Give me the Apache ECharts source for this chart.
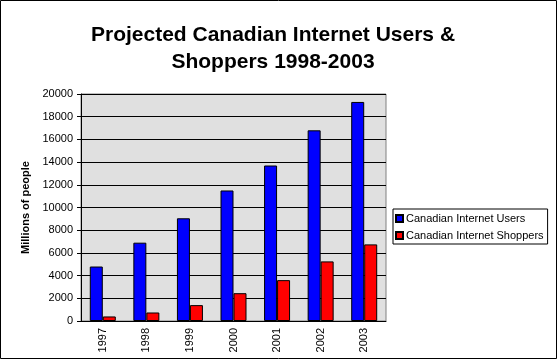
<!DOCTYPE html>
<html>
<head>
<meta charset="utf-8">
<script src="https://cdn.jsdelivr.net/npm/echarts@6/dist/echarts.min.js"></script>
<style>html,body{margin:0;padding:0;background:#fff}#c{width:558px;height:360px}</style>
</head>
<body>
<div id="c"></div>
<script>
var categories = ['1997','1998','1999','2000','2001','2002','2003'];
var users = [4800, 6900, 9050, 11500, 13700, 16800, 19300];
var shoppers = [400, 750, 1400, 2450, 3600, 5250, 6750];
var seriesNames = ['Canadian Internet Users', 'Canadian Internet Shoppers'];
var yTicks = {min: 0, max: 20000, interval: 2000};

var FONT = 'Arial, "Liberation Sans", sans-serif';
var chart = echarts.init(document.getElementById('c'), null, {renderer: 'canvas'});
chart.setOption({
  animation: false,
  backgroundColor: '#ffffff',
  title: {
    text: 'Projected Canadian Internet Users &\nShoppers 1998-2003',
    left: 268, textAlign: 'center', top: 17,
    textStyle: {fontFamily: FONT, fontSize: 21, fontWeight: 'bold', color: '#000', lineHeight: 27}
  },
  legend: {
    orient: 'vertical', left: 393, top: 209,
    padding: [4, 4, 3, 2], itemGap: 6,
    itemWidth: 7, itemHeight: 7,
    borderColor: '#000', borderWidth: 1,
    icon: 'rect',
    textStyle: {fontFamily: FONT, fontSize: 11, color: '#000', padding: [0, 0, 0, -2]},
    data: seriesNames
  },
  grid: {
    left: 81, right: 172, top: 94, bottom: 39,
    show: true, backgroundColor: '#e0e0e0', borderColor: '#808080', borderWidth: 1
  },
  xAxis: {
    type: 'category', data: categories,
    axisLine: {lineStyle: {color: '#000', width: 1}},
    axisTick: {length: 4, lineStyle: {color: '#000'}},
    axisLabel: {rotate: 90, fontFamily: FONT, fontSize: 11, color: '#000', margin: 7}
  },
  yAxis: {
    type: 'value', min: yTicks.min, max: yTicks.max, interval: yTicks.interval,
    name: 'Millions of people', nameLocation: 'middle', nameGap: 49, nameRotate: 90,
    nameTextStyle: {fontFamily: FONT, fontSize: 11, fontWeight: 'bold', color: '#000'},
    axisLine: {show: true, lineStyle: {color: '#000', width: 1}},
    axisTick: {show: true, length: 4, lineStyle: {color: '#000'}},
    axisLabel: {fontFamily: FONT, fontSize: 11, color: '#000', margin: 8,
      formatter: function (v) { return String(v); }},
    splitLine: {show: true, lineStyle: {color: '#000', width: 1}}
  },
  series: [
    {name: seriesNames[0], type: 'bar', data: users, barWidth: 13, barGap: '0%',
     itemStyle: {color: '#0000ff', borderColor: '#000', borderWidth: 1}},
    {name: seriesNames[1], type: 'bar', data: shoppers, barWidth: 13, barGap: '0%',
     itemStyle: {color: '#ff0000', borderColor: '#000', borderWidth: 1}}
  ],
  graphic: [{
    type: 'rect', silent: true, z: 100,
    shape: {x: 0.5, y: 0.5, width: 556, height: 358},
    style: {fill: null, stroke: '#000', lineWidth: 1}
  }]
});
</script>
</body>
</html>
